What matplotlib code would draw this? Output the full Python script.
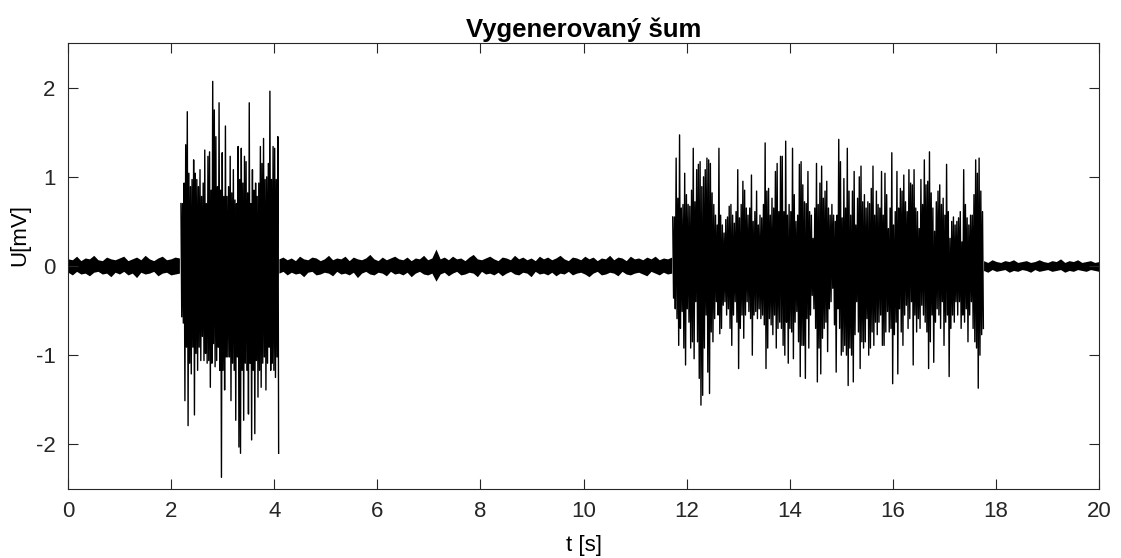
import matplotlib
matplotlib.use("Agg")
import matplotlib.pyplot as plt
import numpy as np

plt.rcParams['font.family'] = ['Liberation Sans', 'DejaVu Sans']
plt.rcParams['axes.unicode_minus'] = False

# envelope of the signal (max / min per ~2 px column), mV
# quiet part before the first burst, 0 - 2.18 s
quiet1_t = (0.0, 2.16)
quiet1_hi = [0.08, 0.07, 0.11, 0.06, 0.09, 0.08, 0.12, 0.07, 0.06, 0.10, 0.08, 0.07, 0.09, 0.11,
             0.06, 0.08, 0.10, 0.07, 0.12, 0.08, 0.06, 0.09, 0.11, 0.07, 0.08, 0.10, 0.09]
quiet1_lo = [-0.07, -0.10, -0.06, -0.09, -0.08, -0.11, -0.07, -0.06, -0.09, -0.08, -0.12, -0.07, -0.09, -0.06,
             -0.10, -0.08, -0.13, -0.07, -0.09, -0.08, -0.06, -0.11, -0.08, -0.07, -0.10, -0.09, -0.08]

# first burst, 2.19 - 4.07 s
burst1_t = (2.19, 4.07)
burst1_hi = [0.70, 0.70, 0.93, 1.36, 1.73, 1.04, 0.89, 0.97, 1.19, 1.04,
             0.97, 0.89, 1.08, 0.78, 0.93, 1.30, 0.70, 1.23, 1.28, 0.85,
             2.07, 1.75, 1.45, 0.89, 1.83, 0.85, 1.27, 0.78, 1.57, 0.78,
             0.89, 1.23, 0.82, 1.08, 0.74, 0.70, 1.34, 0.97, 1.32, 0.93,
             1.23, 1.17, 0.82, 1.83, 0.70, 1.08, 0.85, 0.93, 0.78, 0.93,
             1.34, 1.15, 1.43, 0.97, 1.00, 1.15, 1.96, 0.97, 1.34, 1.32,
             0.97, 1.45]
burst1_lo = [-0.57, -0.64, -1.51, -0.91, -1.79, -1.09, -1.21, -0.91, -1.67, -0.98,
             -1.17, -0.91, -1.06, -0.79, -1.06, -0.98, -1.09, -1.06, -1.36, -1.09,
             -0.87, -1.13, -1.06, -0.91, -1.17, -2.37, -1.17, -1.39, -1.02, -1.02,
             -1.02, -1.51, -1.09, -1.17, -1.73, -1.02, -2.03, -2.10, -1.17, -1.73,
             -1.09, -1.17, -1.66, -1.09, -1.95, -1.17, -1.88, -1.06, -1.47, -1.17,
             -1.36, -1.09, -1.02, -1.39, -1.09, -0.91, -1.17, -1.09, -1.17, -1.25,
             -1.02, -2.10]

# quiet part between the bursts, 4.07 - 11.73 s
quiet2_t = (4.09, 11.71)
quiet2_hi = [0.08, 0.10, 0.07, 0.09, 0.06, 0.11, 0.08, 0.07, 0.10, 0.09,
             0.06, 0.08, 0.12, 0.07, 0.09, 0.08, 0.11, 0.06, 0.10, 0.08,
             0.07, 0.09, 0.13, 0.08, 0.06, 0.10, 0.07, 0.09, 0.11, 0.08,
             0.07, 0.10, 0.06, 0.09, 0.08, 0.12, 0.07, 0.09, 0.19, 0.08,
             0.10, 0.07, 0.11, 0.08, 0.09, 0.06, 0.10, 0.13, 0.08, 0.07,
             0.09, 0.11, 0.08, 0.06, 0.10, 0.09, 0.07, 0.12, 0.08, 0.10,
             0.07, 0.09, 0.06, 0.11, 0.08, 0.10, 0.07, 0.09, 0.12, 0.08,
             0.06, 0.10, 0.09, 0.07, 0.11, 0.08, 0.10, 0.06, 0.09, 0.08,
             0.12, 0.07, 0.10, 0.09, 0.06, 0.11, 0.08, 0.09, 0.07, 0.10,
             0.08, 0.11, 0.07, 0.09, 0.08, 0.10]
quiet2_lo = [-0.08, -0.06, -0.10, -0.07, -0.09, -0.08, -0.12, -0.07, -0.06, -0.10,
             -0.09, -0.07, -0.08, -0.11, -0.06, -0.09, -0.08, -0.10, -0.07, -0.13,
             -0.08, -0.06, -0.09, -0.10, -0.07, -0.08, -0.11, -0.06, -0.09, -0.08,
             -0.10, -0.07, -0.12, -0.08, -0.06, -0.09, -0.10, -0.08, -0.17, -0.09,
             -0.07, -0.11, -0.08, -0.06, -0.10, -0.09, -0.07, -0.08, -0.12, -0.06,
             -0.09, -0.08, -0.10, -0.07, -0.11, -0.08, -0.06, -0.09, -0.10, -0.07,
             -0.08, -0.12, -0.06, -0.09, -0.08, -0.10, -0.07, -0.11, -0.08, -0.09,
             -0.06, -0.10, -0.08, -0.07, -0.09, -0.12, -0.08, -0.06, -0.10, -0.09,
             -0.07, -0.08, -0.11, -0.06, -0.09, -0.10, -0.08, -0.07, -0.09, -0.11,
             -0.06, -0.08, -0.10, -0.07, -0.09, -0.08]

# second burst, 11.73 - 17.74 s
burst2_t = (11.73, 17.74)
burst2_hi = [0.55, 0.55, 1.21, 0.76, 1.47, 0.65, 0.69, 1.04, 0.80, 0.69,
             0.67, 0.85, 1.32, 0.72, 1.08, 1.14, 1.17, 0.89, 1.00, 1.08,
             1.21, 1.19, 1.15, 0.82, 0.69, 0.57, 0.46, 1.32, 0.57, 0.46,
             0.37, 0.52, 0.55, 0.67, 0.69, 0.57, 0.48, 0.61, 1.08, 0.54,
             0.69, 0.95, 0.85, 0.65, 0.57, 0.65, 1.02, 0.50, 0.61, 0.84,
             0.46, 0.57, 0.54, 0.69, 1.38, 0.84, 0.87, 0.57, 0.76, 0.65,
             1.06, 1.15, 0.61, 1.23,
             1.23, 0.61, 1.40, 0.57, 0.69, 0.61, 1.32, 0.80, 0.50, 0.57,
             1.14, 1.17, 0.91, 0.72, 0.70, 1.06, 0.61, 0.57, 0.31, 0.65,
             1.15, 0.69, 0.93, 1.12, 0.76, 0.84, 0.95, 0.65, 0.57, 0.69,
             0.57, 0.50, 0.57, 1.42, 1.17, 0.54, 0.98, 0.65, 1.32, 0.84,
             0.57, 0.84, 1.06, 0.46, 0.76, 1.00, 1.12, 0.72, 0.80, 0.65,
             0.72, 0.70, 0.87, 1.12, 0.57, 0.84,
             0.69, 0.65, 1.06, 0.57, 1.04, 0.80, 0.42, 0.65, 1.27, 0.46,
             0.61, 1.06, 0.65, 0.87, 0.84, 1.02, 0.72, 0.61, 1.08, 0.93,
             0.91, 1.08, 0.65, 0.61, 0.42, 0.97, 0.69, 1.19, 0.91, 0.95,
             1.28, 0.82, 0.65, 0.39, 0.72, 0.84, 0.91, 0.69, 0.76, 0.57,
             1.14, 0.61, 0.31, 0.50, 0.55, 0.46, 0.50, 0.54, 0.61, 0.27,
             1.08, 0.69, 0.54, 0.46, 0.57, 0.57, 0.80, 1.19, 1.04, 1.21,
             0.84, 0.61]
burst2_lo = [-0.36, -0.48, -0.59, -0.89, -0.70, -0.51, -0.92, -1.11, -0.48, -0.63,
             -0.92, -0.85, -1.04, -0.40, -0.85, -1.26, -1.56, -1.45, -0.92, -0.55,
             -1.19, -1.43, -0.74, -0.85, -0.59, -0.40, -0.55, -0.76, -0.70, -0.44,
             -0.40, -0.55, -0.48, -0.70, -0.89, -0.55, -0.40, -0.63, -1.15, -0.70,
             -0.55, -0.81, -0.55, -0.40, -0.51, -0.59, -1.00, -0.55, -0.51, -0.59,
             -0.48, -0.59, -0.55, -0.66, -1.15, -0.92, -0.59, -0.66, -0.77, -0.55,
             -0.92, -0.70, -0.63, -0.70,
             -0.89, -1.00, -0.63, -1.09, -0.70, -0.74, -1.04, -0.63, -0.51, -0.85,
             -1.24, -0.89, -0.89, -1.26, -0.59, -0.92, -0.55, -0.33, -0.48, -0.70,
             -1.30, -0.92, -1.21, -0.81, -0.70, -0.63, -0.96, -0.48, -0.40, -0.25,
             -0.66, -1.19, -0.48, -0.70, -1.00, -0.96, -0.89, -1.00, -1.34, -0.92,
             -1.00, -1.30, -0.77, -0.40, -0.74, -1.15, -0.85, -0.92, -0.85, -0.59,
             -1.00, -0.92, -0.74, -0.89, -0.63, -0.77,
             -0.63, -0.55, -0.89, -0.89, -0.74, -0.51, -0.74, -0.70, -1.32, -0.77,
             -0.63, -1.21, -0.48, -0.74, -0.89, -0.55, -0.44, -0.70, -0.59, -0.40,
             -1.11, -0.55, -0.74, -0.59, -0.70, -0.44, -0.55, -0.63, -0.74, -1.15,
             -0.85, -0.55, -1.08, -0.63, -0.48, -0.55, -0.70, -0.40, -0.89, -0.63,
             -0.55, -1.24, -0.70, -0.55, -0.63, -0.40, -0.55, -0.40, -0.70, -0.55,
             -0.63, -0.48, -0.85, -0.55, -0.40, -0.70, -0.85, -0.92, -1.37, -1.00,
             -0.77, -0.70]

# quiet part at the end, 17.74 - 20 s
quiet3_t = (17.76, 20.0)
quiet3_hi = [0.06, 0.04, 0.07, 0.05, 0.04, 0.06, 0.05, 0.07, 0.04, 0.05, 0.06, 0.04, 0.05, 0.07,
             0.05, 0.04, 0.06, 0.05, 0.08, 0.04, 0.06, 0.05, 0.07, 0.04, 0.05, 0.06, 0.04, 0.05]
quiet3_lo = [-0.05, -0.07, -0.04, -0.06, -0.05, -0.04, -0.07, -0.05, -0.06, -0.04, -0.05, -0.07, -0.04, -0.06,
             -0.05, -0.04, -0.06, -0.05, -0.04, -0.07, -0.05, -0.06, -0.04, -0.05, -0.06, -0.04, -0.05, -0.06]


def zigzag(span, hi, lo):
    # each column: max then min, so the line fills the envelope like a dense signal
    t = np.linspace(span[0], span[1], len(hi))
    dt = (span[1] - span[0]) / (len(hi) - 1)
    tt = np.column_stack([t, t + dt / 2]).ravel()
    yy = np.column_stack([hi, lo]).ravel()
    return tt, yy


fig = plt.figure(figsize=(11.21, 5.58), dpi=100)
ax = fig.add_axes([0.0607, 0.1237, 0.9197, 0.7992])

# quiet stretches: solid band with ragged edges
for span, hi, lo in [(quiet1_t, quiet1_hi, quiet1_lo), (quiet2_t, quiet2_hi, quiet2_lo),
                     (quiet3_t, quiet3_hi, quiet3_lo)]:
    t = np.linspace(span[0], span[1], len(hi))
    ax.fill_between(t, lo, hi, color='black', lw=0)

for span, hi, lo in [(burst1_t, burst1_hi, burst1_lo), (burst2_t, burst2_hi, burst2_lo)]:
    tt, yy = zigzag(span, hi, lo)
    ax.plot(tt, yy, color='black', lw=1.0)

ax.set_xlim(0, 20)
ax.set_ylim(-2.5, 2.5)
ax.set_xticks(np.arange(0, 21, 2))
ax.set_yticks([-2, -1, 0, 1, 2])
ax.tick_params(direction='in', length=7, width=0.8, top=True, right=True,
               labelsize=16, colors='#262626', pad=9)
for s in ax.spines.values():
    s.set_color('#262626')
    s.set_linewidth(0.8)

ax.set_title('Vygenerovaný šum', fontsize=18.5, fontweight='bold', pad=4)
ax.set_xlabel('t [s]', fontsize=16, labelpad=9)
ax.set_ylabel('U[mV]', fontsize=16)
ax.yaxis.set_label_coords(-0.037, 0.57)

fig.savefig('out.png', dpi=100)
